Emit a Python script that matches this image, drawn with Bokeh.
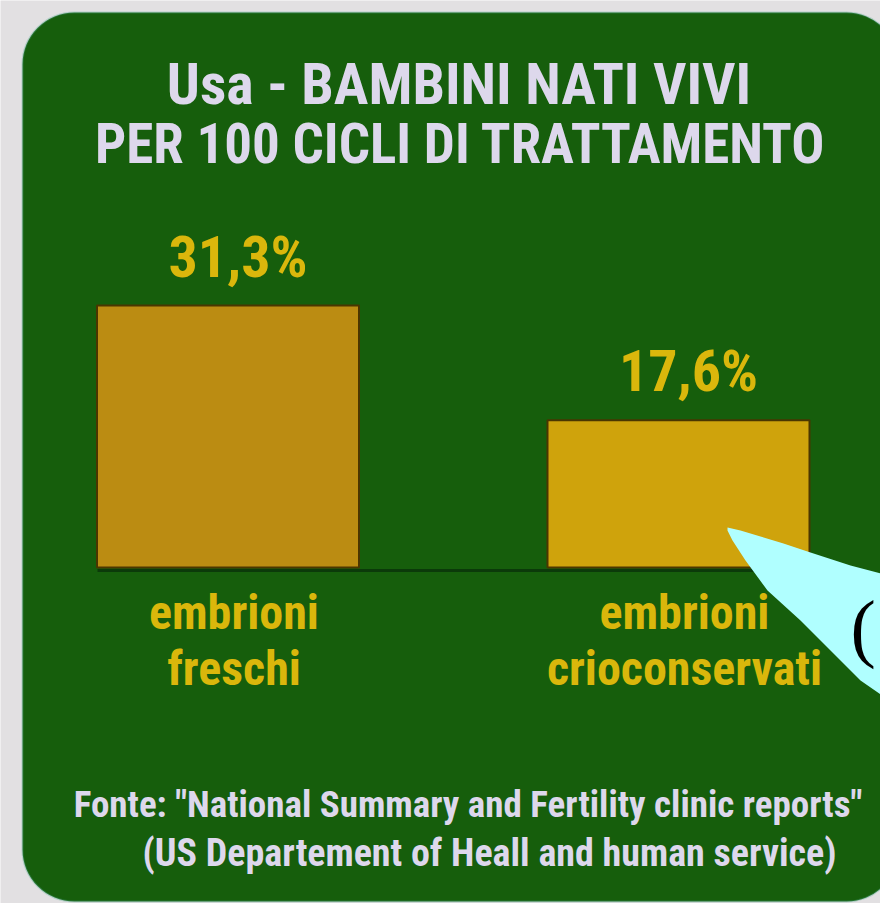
from bokeh.plotting import figure
from bokeh.models import Range1d, BoxAnnotation, ColumnDataSource
from bokeh.core.properties import value
from bokeh.embed import file_html
from bokeh.resources import INLINE

# ---- data ----
categories = ["embrioni\nfreschi", "embrioni\ncrioconservati"]
values = [31.3, 17.6]
value_labels = ["31,3%", "17,6%"]
bar_colors = ["#bb8c12", "#cfa30c"]
title_lines = ["Usa - BAMBINI NATI VIVI", "PER 100 CICLI DI TRATTAMENTO"]
source_lines = ['Fonte: "National Summary and Fertility clinic reports"',
                "(US Departement of Heall and human service)"]

W, H = 880, 903
FONT = "'Roboto Condensed', 'Open Sans Condensed', sans-serif"
GREEN = "#165e0c"
YELLOW = "#dab70c"
LAV = "#ddd8ec"

idx = list(range(len(categories)))
px_unit = 450.5          # pixels between bar centres
c0 = 227.5               # first bar centre (px)
base_px = 567            # baseline (px from top)
scale = 262 / 31.3       # px per percentage point

p = figure(width=W, height=H, output_backend="svg", toolbar_location=None,
           x_range=Range1d(-c0 / px_unit, (W - c0) / px_unit),
           y_range=Range1d(-(H - base_px) / scale, base_px / scale),
           x_axis_location=None, y_axis_location=None,
           min_border=0, outline_line_color=None,
           background_fill_color="#e2e0e2", border_fill_color="#e2e0e2")
p.grid.visible = False
p.extra_x_ranges = {"px": Range1d(0, W)}
p.extra_y_ranges = {"px": Range1d(0, H)}

def Y(py):
    return H - py

# green rounded panel
panel = BoxAnnotation(left=22, right=898, top=Y(12), bottom=Y(901),
                      x_range_name="px", y_range_name="px",
                      fill_color=GREEN, fill_alpha=1.0,
                      line_color="#4aa68a", line_width=2, border_radius=52,
                      level="underlay")
p.add_layout(panel)

# title
p.text(x=[458.5, 460], y=[Y(83), Y(143)], text=title_lines,
       x_range_name="px", y_range_name="px",
       text_font=value(FONT), text_font_style="bold",
       text_font_size=["58px", "55px"], text_color=LAV,
       text_align="center", text_baseline="alphabetic")

# bars
src = ColumnDataSource(dict(x=idx, top=values, color=bar_colors, lab=value_labels,
                            l1=[c.split("\n")[0] for c in categories],
                            l2=[c.split("\n")[1] for c in categories]))
p.vbar(x="x", top="top", bottom=0, width=262 / px_unit, source=src,
       fill_color="color", line_color="#4a3600", line_width=2)

# baseline
p.segment(x0=[97], y0=[Y(570)], x1=[812], y1=[Y(570)], x_range_name="px", y_range_name="px",
          line_color="#0b3a0a", line_width=3)

# value labels
p.text(x="x", y="top", text="lab", source=src, x_offset=10, y_offset=-49,
       text_font=value(FONT), text_font_style="bold", text_font_size="58px",
       text_color=YELLOW, text_align="center", text_baseline="alphabetic")

# category labels
p.text(x="x", y=0, text="l1", source=src, x_offset=6, y_offset=45,
       text_font=value(FONT), text_font_style="bold", text_font_size="48px",
       text_color=YELLOW, text_align="center", text_baseline="alphabetic")
p.text(x="x", y=0, text="l2", source=src, x_offset=6, y_offset=101,
       text_font=value(FONT), text_font_style="bold", text_font_size="48px",
       text_color=YELLOW, text_align="center", text_baseline="alphabetic")

# source
p.text(x=[467.5, 489], y=[Y(804), Y(852)], text=source_lines,
       x_range_name="px", y_range_name="px",
       text_font=value(FONT), text_font_style="bold", text_font_size=["37px", "38px"],
       text_color=LAV, text_align="center", text_baseline="alphabetic")

# cyan callout
cx = [727, 740, 760, 783, 810, 850, 896, 910, 910, 893, 860, 833, 800, 767, 745, 732, 727]
cy = [527, 530, 536, 543, 552, 565, 577, 580, 710, 703, 680, 653, 620, 590, 560, 540, 530]
p.patch(x=cx, y=[Y(v) for v in cy], x_range_name="px", y_range_name="px",
        fill_color="#b0ffff", line_color=None)
p.text(x=[850], y=[Y(626)], text=["("], x_range_name="px", y_range_name="px",
       text_font=value("Liberation Serif"), text_font_size="76px",
       text_color="black", text_align="left", text_baseline="alphabetic")

open("out.html", "w").write(file_html(p, INLINE))
